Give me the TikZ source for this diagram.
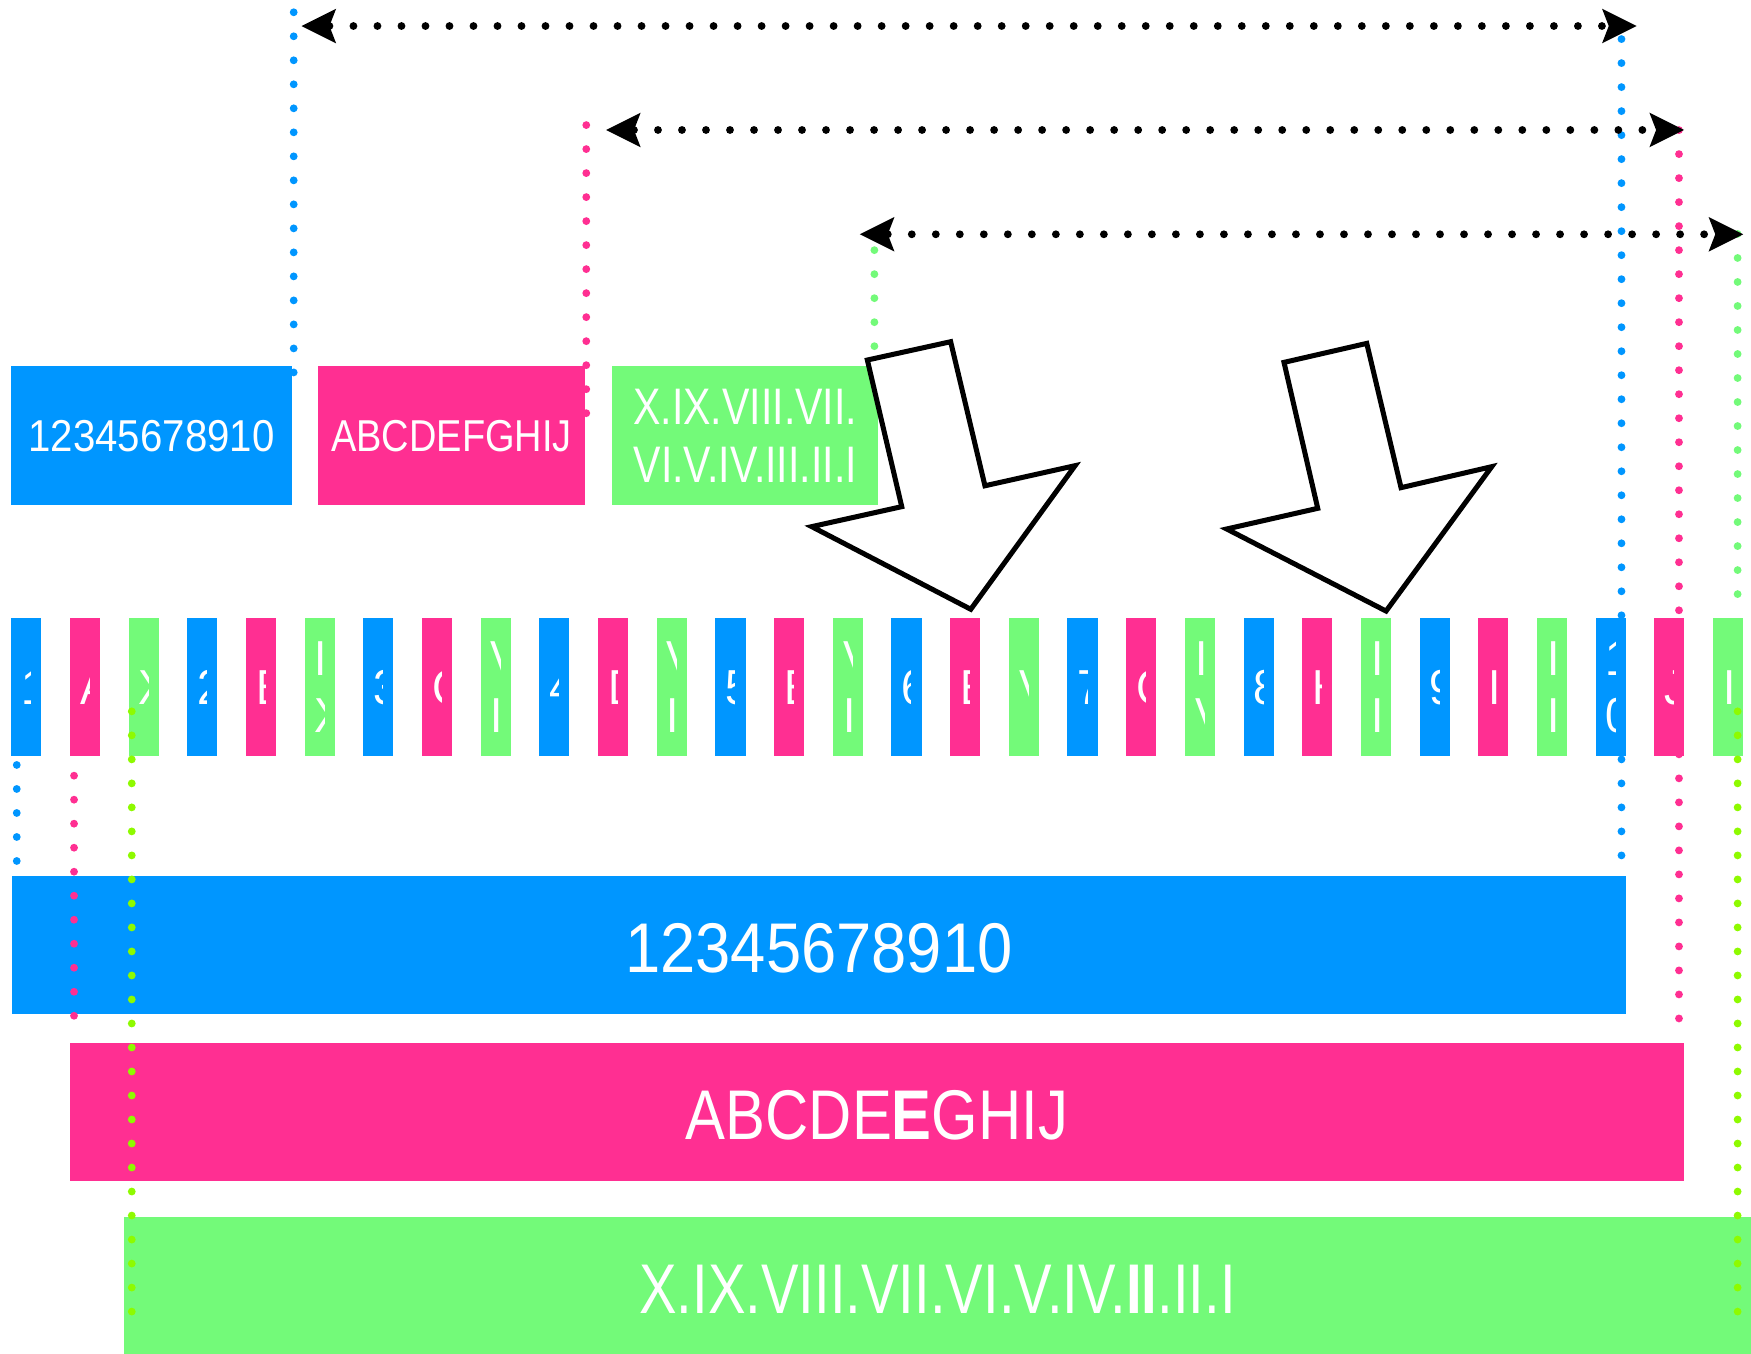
\documentclass[tikz,border=0pt]{standalone}
\usepackage{fontspec}
\setmainfont{Liberation Sans}[FakeStretch=0.9]
\newfontfamily\letterfont{Liberation Sans}[FakeStretch=0.85]
\newfontfamily\romanfont{Liberation Sans}[FakeStretch=0.8]
\usetikzlibrary{arrows.meta}
\definecolor{cblue}{RGB}{0,150,255}
\definecolor{cpink}{RGB}{255,47,146}
\definecolor{cgreen}{RGB}{115,250,121}
\definecolor{clime}{RGB}{142,250,0}
\tikzset{
  panel/.style={inner sep=0pt, outer sep=0pt, minimum height=124pt, text=white},
  smalltext/.style={font=\fontsize{40}{51}\selectfont, text height=28.6pt, text depth=0pt, align=center},
  greentext/.style={font=\romanfont\fontsize{46}{52}\selectfont, text height=85pt, text depth=0pt, align=center},
  largetext/.style={font=\fontsize{63}{75}\selectfont, text height=49pt, text depth=0pt},
  dotline/.style={line width=7pt, line cap=round, dash pattern=on 0pt off 21.5pt},
  dtip/.tip={Stealth[length=31pt,width=31pt,inset=6pt,line width=0pt]},
  dotarrow/.style={dotline, draw=black, dtip-dtip},
  bigarrow/.style={draw=black, fill=white, line width=4.5pt, line join=miter},
  stripebox/.style={inner sep=0pt, outer sep=0pt, minimum width=27pt, minimum height=124pt},
  stripetext/.style={anchor=west, inner sep=0pt, text=white, align=left,
    font=\fontsize{44}{51}\selectfont, text depth=0pt}
}
\begin{document}
\begin{tikzpicture}[x=1pt,y=-1pt]
\useasboundingbox (0,0) rectangle (1568,1212);

% top boxes
\node[panel, smalltext, fill=cblue, minimum width=251.8pt] (topA) at (135.7,390) {12345678910};
\node[panel, smalltext, fill=cpink, minimum width=239pt] (topB) at (404.35,390) {\letterfont ABCDEFGHIJ};
\node[panel, greentext, fill=cgreen, minimum width=238.6pt] (topC) at (667.3,390) {X.IX.VIII.VII.\\VI.V.IV.III.II.I};

% stripes (h = text height: 31.5 for one line, 82.5 for two lines)
\foreach \i/\c/\h/\t in {0/cblue/31.5/1, 1/cpink/31.5/A, 2/cgreen/31.5/X, 3/cblue/31.5/2, 4/cpink/31.5/B, 5/cgreen/82.5/{I\\X},
  6/cblue/31.5/3, 7/cpink/31.5/C, 8/cgreen/82.5/{V\\I}, 9/cblue/31.5/4, 10/cpink/31.5/D, 11/cgreen/82.5/{V\\I},
  12/cblue/31.5/5, 13/cpink/31.5/E, 14/cgreen/82.5/{V\\I}, 15/cblue/31.5/6, 16/cpink/31.5/E, 17/cgreen/31.5/V,
  18/cblue/31.5/7, 19/cpink/31.5/G, 20/cgreen/82.5/{I\\V}, 21/cblue/31.5/8, 22/cpink/31.5/H, 23/cgreen/82.5/{I\\I},
  24/cblue/31.5/9, 25/cpink/31.5/I, 26/cgreen/82.5/{I\\I}, 27/cblue/82.5/{1\\0}, 28/cpink/31.5/J, 29/cgreen/31.5/I}{
  \pgfmathsetmacro\xl{10+52.55*\i}
  \node[stripebox, fill=\c] (s\i) at (\xl+13.5,615) {};
  \begin{scope}
    \clip (\xl,553) rectangle (\xl+17.5,677);
    \node[stripetext, text height=\h pt] (t\i) at (\xl+9,615) {\t};
  \end{scope}
}

% wide bars
\node[panel, largetext, fill=cblue, minimum width=1445.3pt] (barA) at (733.35,846) {12345678910};
\node[panel, largetext, fill=cpink, minimum width=1445.3pt] (barB) at (785.35,996) {\letterfont ABCDE{\bfseries E}GHIJ};
\node[panel, largetext, fill=cgreen, minimum width=1457pt] (barC) at (839.5,1152) {\romanfont X.IX.VIII.VII.VI.V.IV.{\bfseries II}.II.I};

% coordinates of dotted guide lines
\coordinate (bUa) at (263,11);      \coordinate (bUb) at (263,333.5);
\coordinate (pUa) at (525,112);     \coordinate (pUb) at (525,370);
\coordinate (gUa) at (783,224);     \coordinate (gUb) at (783,310);
\coordinate (bRa) at (1452,35);     \coordinate (bRb) at (1452,778);
\coordinate (pRa) at (1503.5,116.5);\coordinate (pRb) at (1503.5,912);
\coordinate (gRa) at (1556,209.5);  \coordinate (gRb) at (1556,553);
\coordinate (lRa) at (1556,637);    \coordinate (lRb) at (1556,1175);
\coordinate (lLa) at (118,637);     \coordinate (lLb) at (118,1175);
\coordinate (bLa) at (15,685);      \coordinate (bLb) at (15,771);
\coordinate (pLa) at (66.3,694.6);  \coordinate (pLb) at (66.3,930.6);

\draw[dotline, cblue] (bUa) -- (bUb);
\draw[dotline, cpink] (pUa) -- (pUb);
\draw[dotline, cgreen] (gUa) -- (gUb);
\draw[dotline, cblue] (bRa) -- (bRb);
\draw[dotline, cpink] (pRa) -- (pRb);
\draw[dotline, cgreen] (gRa) -- (gRb);
\draw[dotline, clime] (lRa) -- (lRb);
\draw[dotline, clime] (lLa) -- (lLb);
\draw[dotline, cblue] (bLa) -- (bLb);
\draw[dotline, cpink] (pLa) -- (pLb);

% dotted double arrows
\coordinate (h1a) at (270,23.3);   \coordinate (h1b) at (1465.6,23.3);
\coordinate (h2a) at (542.7,116.4);\coordinate (h2b) at (1508,116.4);
\coordinate (h3a) at (770,209.8);  \coordinate (h3b) at (1561,209.8);
\draw[dotarrow] (h1a) -- (h1b);
\draw[dotarrow] (h2a) -- (h2b);
\draw[dotarrow] (h3a) -- (h3b);

% big hollow arrows
\draw[bigarrow] (776.7,322.4) -- (851.3,306) -- (882,435) -- (962.7,417) -- (869.3,545.6) -- (726.9,471.6) -- (807.5,453.7) -- cycle;
\draw[bigarrow] (1149.8,324.5) -- (1223.9,307.5) -- (1254.6,436.7) -- (1335.8,417.9) -- (1241.2,547.2) -- (1098.5,473.7) -- (1180,455.2) -- cycle;
\end{tikzpicture}
\end{document}
